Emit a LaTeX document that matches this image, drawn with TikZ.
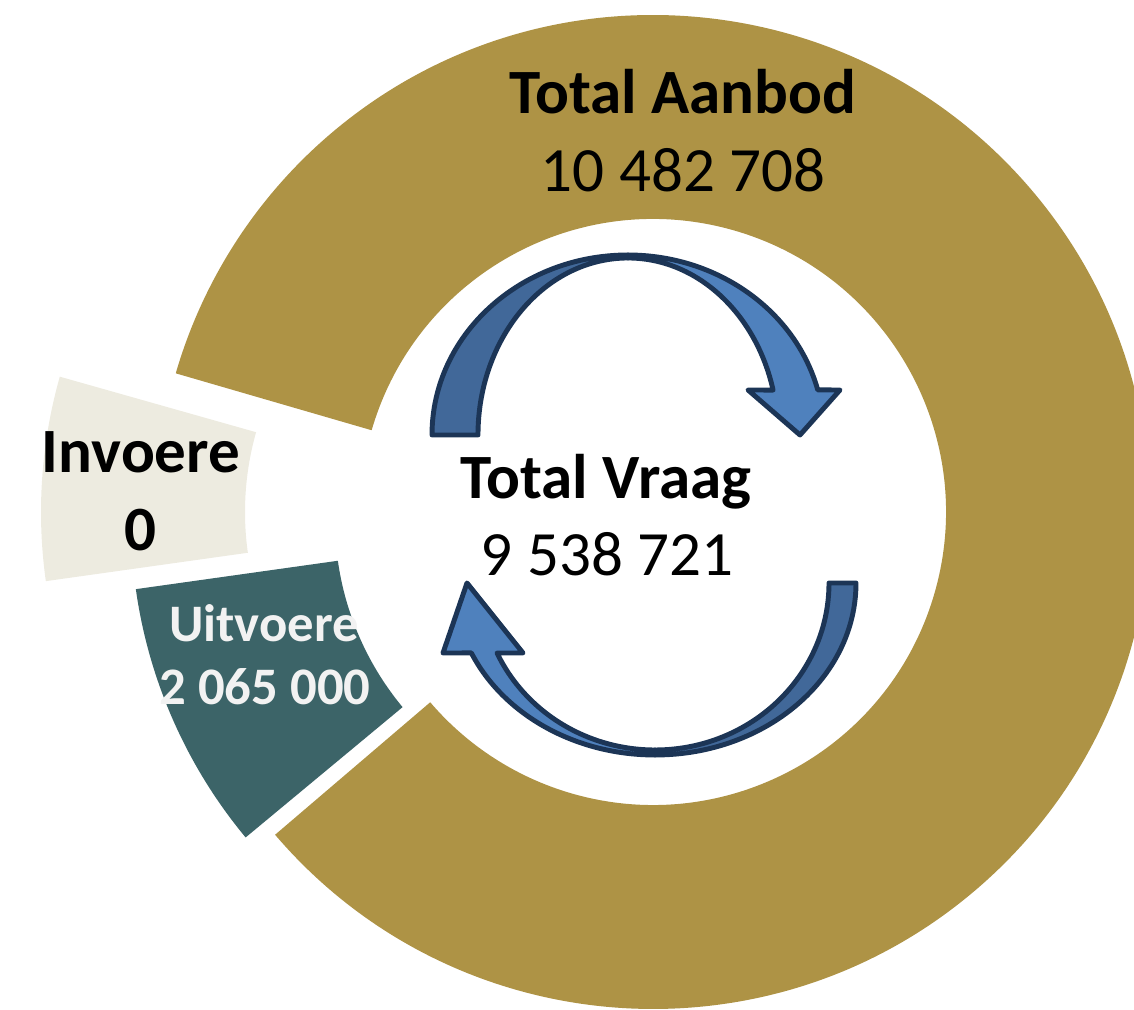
\documentclass[tikz,border=0pt]{standalone}
\usepackage{fontspec}
\setmainfont{Carlito}
\usetikzlibrary{calc}

\definecolor{SupplyRing}{RGB}{174,147,69}
\definecolor{ImportSlice}{RGB}{237,235,224}
\definecolor{ExportSlice}{RGB}{60,100,104}
\definecolor{ExportText}{RGB}{242,242,242}
\definecolor{LoopBack}{RGB}{65,104,153}
\definecolor{LoopFront}{RGB}{79,129,189}
\definecolor{LoopLine}{RGB}{28,53,86}

\begin{document}
\begin{tikzpicture}[x=0.02cm, y=0.02cm,
    labeltext/.style={anchor=base, font=\fontsize{35.9}{44}\selectfont\bfseries},
    valuetext/.style={anchor=base, font=\fontsize{35.9}{44}\selectfont},
    smalltext/.style={anchor=base, text=ExportText, font=\fontsize{30}{36}\selectfont\bfseries},
    loopback/.style={fill=LoopBack, draw=LoopLine, line width=2.8pt, line join=round},
    loopfront/.style={fill=LoopFront, draw=LoopLine, line width=2.8pt, line join=round}]

    \clip (0,0) rectangle (1134,1010);

    \coordinate (O) at (653,498);
    \coordinate (B) at (538,498);
    \coordinate (T) at (628,490);
    \coordinate (U) at (628,575);
    \coordinate (L) at (655,427);

    \fill[SupplyRing] ($(O)+(-139.5:497)$) arc[start angle=-139.5, end angle=163.8, radius=497]
        -- ($(O)+(163.8:293)$) arc[start angle=163.8, end angle=-139.5, radius=293] -- cycle;
    \fill[ImportSlice] ($(B)+(164.2:497)$) arc[start angle=164.2, end angle=188, radius=497]
        -- ($(B)+(188:293)$) arc[start angle=188, end angle=164.2, radius=293] -- cycle;
    \fill[ExportSlice] ($(T)+(188:497)$) arc[start angle=188, end angle=219.7, radius=497]
        -- ($(T)+(219.7:293)$) arc[start angle=219.7, end angle=188, radius=293] -- cycle;

    \filldraw[loopback] ($(U)+(180:196 and 180)$) arc[start angle=180, end angle=90, x radius=196, y radius=180]
        -- ($(U)+(90:150 and 177)$) arc[start angle=90, end angle=180, x radius=150, y radius=177] -- cycle;
    \filldraw[loopfront] ($(U)+(90:196 and 180)$) arc[start angle=90, end angle=14.5, x radius=196, y radius=180]
        -- (840,620) -- (800,575) -- (748,620)
        -- ($(U)+(14.7:150 and 177)$) arc[start angle=14.7, end angle=90, x radius=150, y radius=177] -- cycle;

    \filldraw[loopback] ($(L)+(0:201 and 172)$) arc[start angle=0, end angle=-90, x radius=201, y radius=172]
        -- ($(L)+(-90:174 and 167)$) arc[start angle=-90, end angle=0, x radius=174, y radius=167] -- cycle;
    \filldraw[loopfront] ($(L)+(-90:201 and 172)$) arc[start angle=-90, end angle=-156, x radius=201, y radius=172]
        -- (443,357) -- (467,427) -- (523,357)
        -- ($(L)+(-155.2:174 and 167)$) arc[start angle=-155.2, end angle=-90, x radius=174, y radius=167] -- cycle;

    \node[labeltext] (aanbod) at (683,896) {Total Aanbod};
    \node[valuetext] (aanbodval) at (683,818) {10 482 708};
    \node[labeltext] (vraag) at (606,511) {Total Vraag};
    \node[valuetext] (vraagval) at (607,434) {9 538 721};
    \node[labeltext] (invoer) at (141,537) {Invoere};
    \node[labeltext] (invoerval) at (140,459) {0};
    \node[smalltext] (uitvoer) at (264,368) {Uitvoere};
    \node[smalltext] (uitvoerval) at (265,305) {2 065 000};
\end{tikzpicture}
\end{document}
